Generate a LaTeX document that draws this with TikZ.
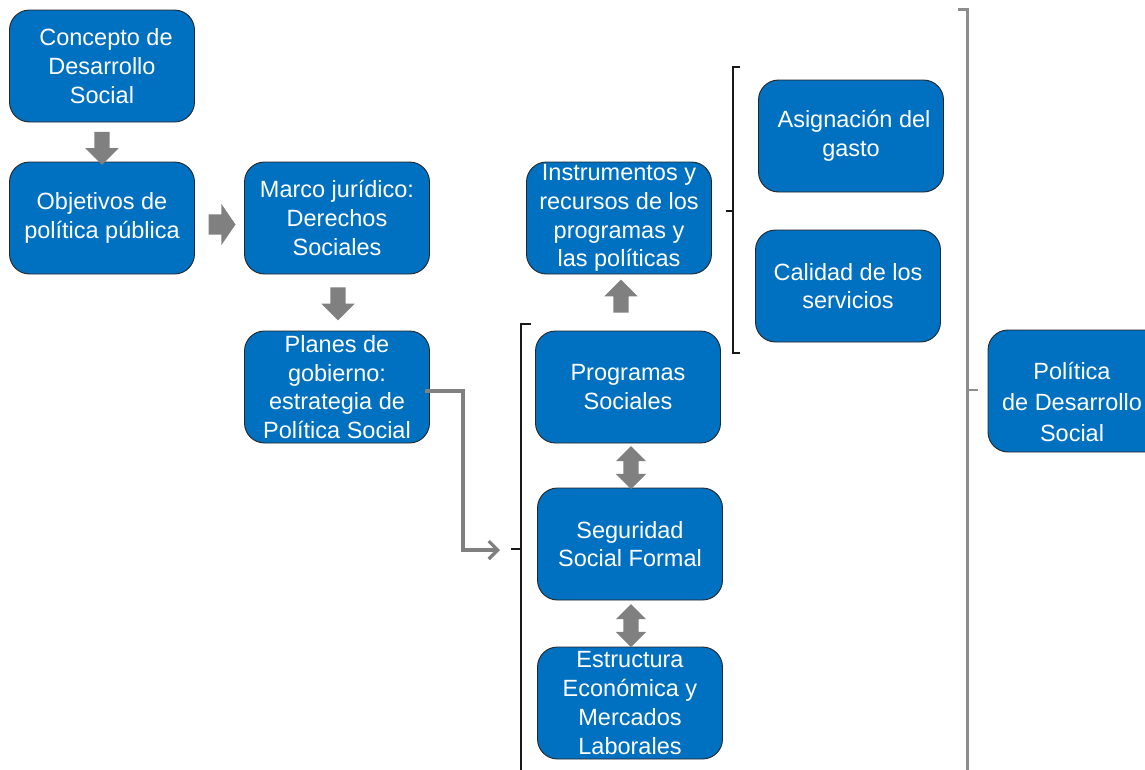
\documentclass[tikz,border=0pt]{standalone}
\usepackage{fontspec}
\setmainfont{Liberation Sans}
\usepackage{tikz}
\usetikzlibrary{shapes.arrows,arrows.meta,calc,positioning}
\definecolor{cajaazul}{RGB}{0,112,192}
\definecolor{grisflecha}{RGB}{128,128,128}
\tikzset{caja/.style={draw=black!85, line width=0.9pt, fill=cajaazul, rounded corners=20pt, text=white,
align=center, inner sep=0pt, minimum width=185pt, minimum height=112pt, font=\fontsize{23.5}{28.8}\selectfont},
flecha/.style={single arrow, fill=grisflecha, draw=none, inner xsep=0pt, inner ysep=7.5pt,
single arrow head extend=9pt, minimum height=33pt},
dobleflecha/.style={double arrow, fill=grisflecha, draw=none, inner xsep=0pt, inner ysep=7.5pt,
double arrow head extend=7.5pt, minimum height=43pt},
conector/.style={draw=grisflecha, line width=3.2pt, -{Straight Barb[length=9pt,width=18pt]}},
llave/.style={draw=black!90, line width=1.3pt},
llavegris/.style={draw=grisflecha!90!white, line width=3pt}}

\begin{document}
\begin{tikzpicture}[x=1pt, y=-1pt]

\useasboundingbox (0,0) rectangle (1145,769);

% the first column

    \node[caja] (concepto) at (102,66) {\hspace*{8pt}Concepto de\\Desarrollo\\Social};
    \node[caja] (objetivos) at (102,218) {Objetivos de\\política pública};
    \node[flecha, rotate=-90] (f_1) at (102,144.5) {};
    \node[flecha, inner ysep=10pt, single arrow head extend=10.5pt, single arrow tip angle=111,
    minimum height=27pt] (f_2) at (218.5,224.5) {};

% the second column

    \node[caja] (marco) at (337,218) {Marco jurídico:\\Derechos\\Sociales};
    \node[caja] (planes) at (337,387) {Planes de\\gobierno:\\estrategia de\\Política Social};
    \node[flecha, rotate=-90] (f_3) at (338,300) {};

% the programs

    \node[caja] (instrumentos) at (619,218) {Instrumentos y\\recursos de los\\programas y\\las políticas};
    \node[caja] (programas) at (628,387) {Programas\\Sociales};
    \node[caja] (seguridad) at (630,544) {Seguridad\\Social Formal};
    \node[caja] (estructura) at (630,703) {Estructura\\Económica y\\Mercados\\Laborales};
    \node[flecha, rotate=90] (f_4) at (621,300) {};
    \node[dobleflecha, rotate=90] (f_5) at (631,467.5) {};
    \node[dobleflecha, rotate=90] (f_6) at (631,625.5) {};

    \coordinate (fin) at (500,550);
    \draw[conector] ($(planes.east)+(-5,4)$) -- ++(38,0) |- (fin);

    \draw[llave] (531,324) -- (521,324) -- (521,775);
    \draw[llave] (511,549) -- (521,549);

% the resources

    \node[caja] (asignacion) at (851,136) {\hspace*{6pt}Asignación del\\gasto};
    \node[caja] (calidad) at (848,286) {Calidad de los\\servicios};

    \draw[llave] (740,67) -- (733,67) -- (733,353) -- (740,353);
    \draw[llave] (726,211) -- (733,211);

% the result

    \draw[llavegris] (958,9) -- (967,9) -- (967,775);
    \draw[llavegris, line width=2pt] (967,390) -- (978,390);
    \node[caja, minimum width=182pt, minimum height=122pt] (politica) at (1079,391) {};
    \node[font=\fontsize{23.5}{31}\selectfont, text=white, align=center] (politica_t) at (1072,402)
    {Política\\de Desarrollo\\Social};

\end{tikzpicture}
\end{document}
